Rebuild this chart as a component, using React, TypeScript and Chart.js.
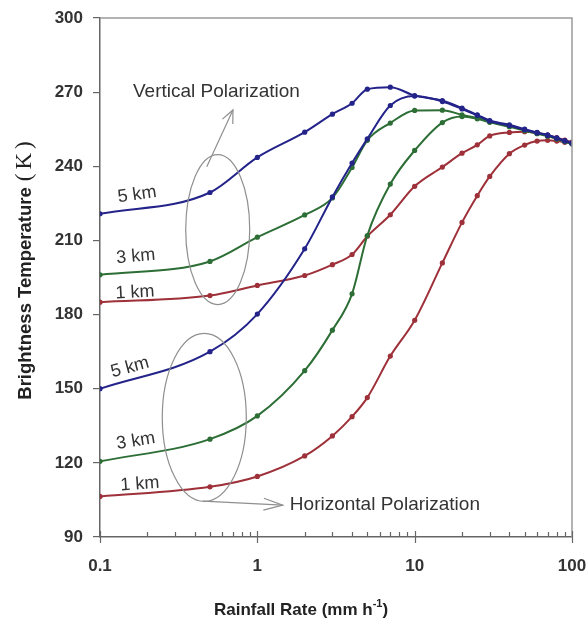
import React, { useEffect, useRef } from "react";
import { Chart, registerables } from "chart.js";

Chart.register(...registerables);

// Rainfall rate (mm/h) sample points
const rainfall = [0.1, 0.5, 1, 2, 3, 4, 5, 7, 10, 15, 20, 25, 30, 40, 50, 60, 70, 80, 90, 100];

// Vertical polarization brightness temperatures (K)
const vert5km = [220.8, 229.4, 243.6, 253.8, 261.1, 265.5, 271.2, 272.0, 268.6, 266.6, 263.5, 260.8, 258.5, 256.8, 255.0, 253.7, 252.7, 251.5, 250.4, 249.5];
const vert3km = [196.1, 201.5, 211.3, 220.3, 227.2, 239.5, 250.5, 257.5, 262.6, 262.7, 260.8, 259.5, 258.0, 256.2, 254.6, 253.4, 252.4, 251.2, 250.1, 249.2];
const vert1km = [185.0, 187.7, 191.8, 195.8, 200.2, 204.3, 211.7, 220.4, 231.9, 239.7, 245.3, 248.7, 252.3, 253.7, 254.0, 253.5, 252.6, 251.6, 250.6, 249.8];

// Horizontal polarization brightness temperatures (K)
const horiz5km = [150.0, 165.0, 180.2, 206.6, 227.6, 241.3, 251.1, 264.6, 268.4, 266.2, 263.2, 260.6, 258.3, 256.5, 254.8, 253.5, 252.5, 251.3, 250.2, 249.3];
const horiz3km = [120.6, 129.6, 139.0, 157.3, 173.7, 188.4, 212.0, 232.8, 246.4, 257.7, 260.1, 259.2, 257.8, 256.0, 254.4, 253.2, 252.2, 251.0, 250.0, 249.0];
const horiz1km = [106.4, 110.3, 114.5, 122.8, 130.9, 138.7, 146.4, 163.2, 177.7, 200.9, 217.3, 228.1, 235.9, 245.1, 248.6, 250.2, 250.5, 250.2, 249.7, 249.2];

// Axis ticks
const xMajorTicks = [0.1, 1, 10, 100];
const xMinorTicks = [0.2, 0.3, 0.4, 0.5, 0.6, 0.7, 0.8, 0.9, 2, 3, 4, 5, 6, 7, 8, 9, 20, 30, 40, 50, 60, 70, 80, 90];
const yMin = 90;
const yMax = 300;
const yStep = 30;

const BLUE = "#23238a";
const GREEN = "#2c6e35";
const RED = "#9e3039";
const SANS = "'Liberation Sans', Arial, sans-serif";
const SERIF = "'Liberation Serif', 'DejaVu Serif', serif";

export default function App() {
  const ref = useRef<HTMLCanvasElement>(null);

  useEffect(() => {
    const canvas = ref.current;
    if (!canvas) return;

    const mk = (label: string, ys: number[], color: string) => ({
      label,
      data: rainfall.map((x, i) => ({ x, y: ys[i] })),
      borderColor: color,
      backgroundColor: color,
      pointBackgroundColor: color,
      pointBorderColor: color,
      pointRadius: 2.6,
      pointBorderWidth: 0,
      borderWidth: 2,
      cubicInterpolationMode: "monotone" as const,
      fill: false,
    });

    const arrow = (c: CanvasRenderingContext2D, x1: number, y1: number, x2: number, y2: number, len: number, ang: number) => {
      c.beginPath();
      c.moveTo(x1, y1);
      c.lineTo(x2, y2);
      c.stroke();
      const a = Math.atan2(y2 - y1, x2 - x1);
      c.beginPath();
      c.moveTo(x2 - len * Math.cos(a - ang), y2 - len * Math.sin(a - ang));
      c.lineTo(x2, y2);
      c.lineTo(x2 - len * Math.cos(a + ang), y2 - len * Math.sin(a + ang));
      c.stroke();
    };

    const annot = {
      id: "annot",
      afterDraw(chart: any) {
        const c: CanvasRenderingContext2D = chart.ctx;
        const xs = chart.scales.x;
        const ys = chart.scales.y;
        const ca = chart.chartArea;
        const px = (v: number) => xs.getPixelForValue(v);
        const py = (v: number) => ys.getPixelForValue(v);
        c.save();

        // frame top/right
        c.strokeStyle = "#9a9a9a";
        c.lineWidth = 1.5;
        c.beginPath();
        c.moveTo(ca.left, ca.top);
        c.lineTo(ca.right, ca.top);
        c.lineTo(ca.right, ca.bottom);
        c.stroke();

        // x ticks
        c.strokeStyle = "#666";
        c.lineWidth = 1.2;
        xMinorTicks.forEach((v) => {
          const x = Math.round(px(v)) + 0.5;
          c.beginPath();
          c.moveTo(x, ca.bottom - 5);
          c.lineTo(x, ca.bottom);
          c.stroke();
        });
        xMajorTicks.forEach((v) => {
          const x = Math.round(px(v)) + 0.5;
          c.beginPath();
          c.moveTo(x, ca.bottom - 6);
          c.lineTo(x, ca.bottom + 6);
          c.stroke();
        });

        // ellipses and arrows
        c.strokeStyle = "#8f8f8f";
        c.lineWidth = 1.2;
        c.beginPath();
        c.ellipse(px(0.56), py(214.4), 32, 75, 0, 0, Math.PI * 2);
        c.stroke();
        c.beginPath();
        c.ellipse(px(0.46), py(138.4), 42, 84, 0, 0, Math.PI * 2);
        c.stroke();
        arrow(c, px(0.477), py(239.8), px(0.70), py(262.8), 14, 0.42);
        arrow(c, px(0.451), py(104.5), px(1.45), py(102.9), 20, 0.3);

        // annotation texts
        c.fillStyle = "#333";
        c.textBaseline = "middle";
        c.font = `19px ${SANS}`;
        c.textAlign = "left";
        c.fillText("Vertical Polarization", px(0.162), py(270));
        c.fillText("Horizontal Polarization", px(1.61), py(102.9));

        const kmLabel = (t: string, xv: number, yv: number, rotDeg: number) => {
          c.save();
          c.translate(px(xv), py(yv));
          c.rotate((rotDeg * Math.PI) / 180);
          c.textAlign = "center";
          c.font = `18px ${SANS}`;
          c.fillText(t, 0, 0);
          c.restore();
        };
        kmLabel("5 km", 0.172, 228.5, -8);
        kmLabel("3 km", 0.169, 203.5, -5);
        kmLabel("1 km", 0.167, 188.9, -3);
        kmLabel("5 km", 0.155, 158.6, -15);
        kmLabel("3 km", 0.169, 128.8, -9);
        kmLabel("1 km", 0.179, 111.4, -4);

        // y title
        c.save();
        c.translate(26, (ca.top + ca.bottom) / 2 - 7);
        c.rotate(-Math.PI / 2);
        c.textAlign = "left";
        c.fillStyle = "#222";
        c.font = `bold 18.5px ${SANS}`;
        const t1 = "Brightness Temperature";
        const w1 = c.measureText(t1).width;
        c.font = `23px ${SERIF}`;
        const gap = 6;
        const sp = 4;
        const wl = c.measureText("(").width;
        const wk = c.measureText("K").width;
        const wr = c.measureText(")").width;
        const total = w1 + gap + wl + sp + wk + sp + wr;
        let sx = -total / 2;
        c.font = `bold 18.5px ${SANS}`;
        c.fillText(t1, sx, 0);
        sx += w1 + gap;
        c.font = `23px ${SERIF}`;
        c.fillText("(", sx, -1);
        sx += wl + sp;
        c.fillText("K", sx, -1);
        sx += wk + sp;
        c.fillText(")", sx, -1);
        c.restore();

        // x title
        c.fillStyle = "#222";
        c.textAlign = "left";
        c.font = `bold 17px ${SANS}`;
        const a1 = "Rainfall Rate (mm h";
        const a3 = ")";
        const wa1 = c.measureText(a1).width;
        const wa3 = c.measureText(a3).width;
        c.font = `bold 11px ${SANS}`;
        const a2 = "-1";
        const wa2 = c.measureText(a2).width;
        const cx = 301;
        const x0 = cx - (wa1 + wa2 + wa3) / 2;
        const ty = 610;
        c.font = `bold 17px ${SANS}`;
        c.fillText(a1, x0, ty);
        c.font = `bold 11px ${SANS}`;
        c.fillText(a2, x0 + wa1, ty - 6);
        c.font = `bold 17px ${SANS}`;
        c.fillText(a3, x0 + wa1 + wa2, ty);

        c.restore();
      },
    };

    const chart = new Chart(canvas, {
      type: "line",
      data: {
        datasets: [
          mk("Vertical 5 km", vert5km, BLUE),
          mk("Horizontal 5 km", horiz5km, BLUE),
          mk("Vertical 3 km", vert3km, GREEN),
          mk("Horizontal 3 km", horiz3km, GREEN),
          mk("Vertical 1 km", vert1km, RED),
          mk("Horizontal 1 km", horiz1km, RED),
        ],
      },
      options: {
        animation: false,
        responsive: true,
        maintainAspectRatio: false,
        layout: { padding: { top: 18, right: 15, left: 0, bottom: 0 } },
        plugins: {
          legend: { display: false },
          tooltip: { enabled: false },
          title: { display: false },
        },
        scales: {
          x: {
            type: "logarithmic",
            min: 0.1,
            max: 100,
            afterBuildTicks: (scale: any) => {
              scale.ticks = [...xMajorTicks, ...xMinorTicks]
                .sort((a, b) => a - b)
                .map((v) => ({ value: v }));
            },
            afterFit: (scale: any) => {
              scale.height = 84;
              scale.paddingLeft = 0;
              scale.paddingRight = 0;
            },
            ticks: {
              autoSkip: false,
              maxRotation: 0,
              minRotation: 0,
              padding: 11,
              color: "#333",
              font: { family: SANS, size: 17, weight: "bold" },
              callback: (v: any) => (xMajorTicks.includes(Number(v)) ? String(v) : ""),
            },
            grid: { display: false },
            border: { display: true, color: "#666", width: 1.5 },
          },
          y: {
            type: "linear",
            min: yMin,
            max: yMax,
            afterFit: (scale: any) => {
              scale.width = 100;
              scale.paddingTop = 0;
              scale.paddingBottom = 0;
            },
            ticks: {
              stepSize: yStep,
              padding: 10,
              color: "#333",
              font: { family: SANS, size: 17, weight: "bold" },
            },
            grid: {
              display: true,
              drawOnChartArea: false,
              drawTicks: true,
              tickLength: 7,
              color: "#666",
              lineWidth: 1.2,
            },
            border: { display: true, color: "#666", width: 1.5 },
          },
        },
      },
      plugins: [annot],
    } as any);

    return () => chart.destroy();
  }, []);

  return (
    <div style={{ position: "absolute", left: 0, top: 0, width: 587, height: 621, background: "#fff" }}>
      <canvas ref={ref} />
    </div>
  );
}
